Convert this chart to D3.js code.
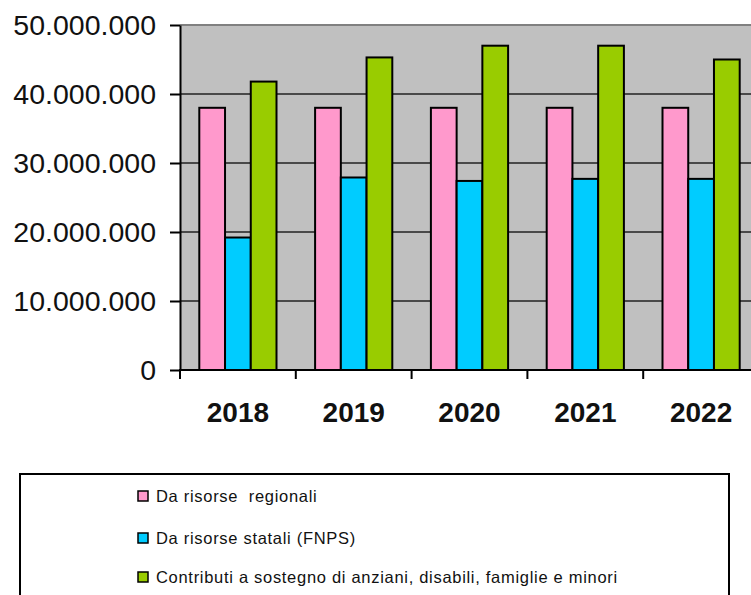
<!DOCTYPE html>
<html>
<head>
<meta charset="utf-8">
<script src="https://cdn.jsdelivr.net/npm/d3@7"></script>
<style>
    html, body { margin: 0; padding: 0; background: #fff; }
    svg { display: block; }
    text { font-family: "Liberation Sans", Arial, sans-serif; fill: #111; }
</style>
</head>
<body>
<svg id="chart" width="751" height="595"></svg>
<script>
// data
const years = ['2018', '2019', '2020', '2021', '2022'];
const regionali = [38000000, 38000000, 38000000, 38000000, 38000000];
const statali = [19200000, 27900000, 27400000, 27700000, 27700000];
const contributi = [41800000, 45300000, 47000000, 47000000, 45000000];
const seriesNames = [
    'Da risorse  regionali',
    'Da risorse statali (FNPS)',
    'Contributi a sostegno di anziani, disabili, famiglie e minori'
];
const seriesColors = ['#ff99cc', '#00ccff', '#99cc00'];
const yTicks = [0, 10000000, 20000000, 30000000, 40000000, 50000000];

const series = [regionali, statali, contributi];

const svg = d3.select('#chart');
const plot = { left: 180, top: 25, bottom: 370, right: 759 };

const x = d3.scaleBand().domain(years).range([plot.left, plot.right]).padding(0);
const x1 = d3.scaleBand().domain(d3.range(series.length))
    .range([0, x.bandwidth()]).paddingInner(0).paddingOuter(0.75);
const y = d3.scaleLinear().domain([0, 50000000]).range([plot.bottom, plot.top]);

const it = d3.formatLocale({ decimal: ',', thousands: '.', grouping: [3], currency: ['', ' €'] });
const fmt = it.format(',d');

svg.append('defs').append('clipPath').attr('id', 'clip')
    .append('rect').attr('x', 0).attr('y', 0).attr('width', 751).attr('height', 595);

const g = svg.append('g').attr('clip-path', 'url(#clip)');

// plot background
g.append('rect')
    .attr('x', plot.left).attr('y', plot.top)
    .attr('width', plot.right - plot.left).attr('height', plot.bottom - plot.top)
    .attr('fill', '#c0c0c0');
g.append('line')
    .attr('x1', plot.left).attr('x2', plot.right)
    .attr('y1', plot.top).attr('y2', plot.top)
    .attr('stroke', '#808080').attr('stroke-width', 2);

// gridlines
g.append('g').selectAll('line')
    .data(yTicks.filter((d) => d > 0 && d < 50000000))
    .join('line')
    .attr('x1', plot.left).attr('x2', plot.right)
    .attr('y1', (d) => y(d)).attr('y2', (d) => y(d))
    .attr('stroke', '#222').attr('stroke-width', 1.5);

// bars
const groups = g.append('g').selectAll('g')
    .data(years)
    .join('g')
    .attr('transform', (d) => `translate(${x(d)},0)`);

groups.selectAll('rect')
    .data((d, i) => series.map((s, k) => ({ k, v: s[i] })))
    .join('rect')
    .attr('x', (d) => x1(d.k))
    .attr('width', x1.bandwidth())
    .attr('y', (d) => y(d.v))
    .attr('height', (d) => y(0) - y(d.v))
    .attr('fill', (d) => seriesColors[d.k])
    .attr('stroke', '#000')
    .attr('stroke-width', 2);

// y axis
const yAxis = svg.append('g')
    .attr('transform', `translate(${plot.left},0)`)
    .call(d3.axisLeft(y).tickValues(yTicks).tickFormat(fmt).tickSize(10).tickSizeOuter(0).tickPadding(14));
yAxis.select('.domain').attr('stroke', '#000').attr('stroke-width', 2);
yAxis.selectAll('.tick line').attr('stroke', '#000').attr('stroke-width', 2);
yAxis.selectAll('.tick text')
    .style('font-family', '"Liberation Sans", Arial, sans-serif')
    .style('font-size', '28.5px')
    .attr('fill', '#111');

// x axis: baseline, boundary ticks, year labels
svg.append('line')
    .attr('x1', plot.left - 1).attr('x2', 751)
    .attr('y1', plot.bottom).attr('y2', plot.bottom)
    .attr('stroke', '#000').attr('stroke-width', 2);
svg.append('g').selectAll('line')
    .data(years)
    .join('line')
    .attr('x1', (d) => x(d)).attr('x2', (d) => x(d))
    .attr('y1', plot.bottom).attr('y2', plot.bottom + 9)
    .attr('stroke', '#000').attr('stroke-width', 2);

const xAxis = svg.append('g')
    .attr('transform', `translate(0,${plot.bottom})`)
    .call(d3.axisBottom(x).tickSize(0).tickPadding(32));
xAxis.select('.domain').remove();
xAxis.selectAll('.tick text')
    .style('font-family', '"Liberation Sans", Arial, sans-serif')
    .style('font-size', '28px')
    .style('font-weight', 'bold')
    .attr('fill', '#111');

// legend
const legend = svg.append('g');
legend.append('rect')
    .attr('x', 20).attr('y', 474).attr('width', 709).attr('height', 200)
    .attr('fill', '#fff').attr('stroke', '#000').attr('stroke-width', 2);

const rowY = [496, 538, 577];
const item = legend.selectAll('g.item')
    .data(seriesNames)
    .join('g')
    .attr('class', 'item')
    .attr('transform', (d, i) => `translate(138,${rowY[i]})`);
item.append('rect')
    .attr('x', 0).attr('y', -5).attr('width', 10).attr('height', 10)
    .attr('fill', (d, i) => seriesColors[i])
    .attr('stroke', '#000').attr('stroke-width', 1.5);
item.append('text')
    .attr('x', 18).attr('y', 6)
    .style('font-size', '16.5px')
    .style('letter-spacing', '0.7px')
    .style('white-space', 'pre')
    .text((d) => d);
</script>
</body>
</html>
